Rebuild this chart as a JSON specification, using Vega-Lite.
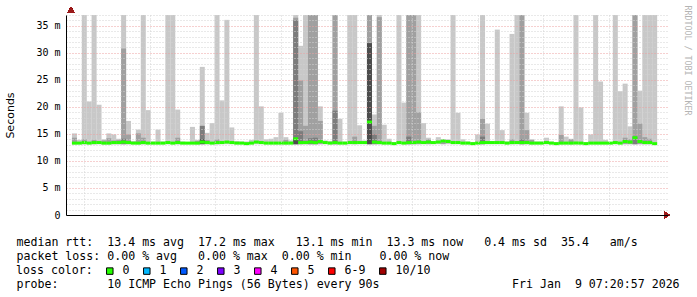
{
  "$schema": "https://vega.github.io/schema/vega-lite/v6.json",
  "autosize": "none",
  "width": 602,
  "height": 200,
  "padding": {"left": 66, "top": 15, "right": 29, "bottom": 82},
  "background": "white",
  "config": {"view": {"stroke": null}},
  "data": {"values": [
    {"t":"2026-01-09T04:22:00","hi":15.1,"g2":14.3,"med":13.3,"loss":"0"},
    {"t":"2026-01-09T04:23:30","hi":13.9,"med":13.3,"loss":"0"},
    {"t":"2026-01-09T04:25:00","hi":37,"g2":14.0,"med":13.4,"loss":"0"},
    {"t":"2026-01-09T04:26:30","hi":21.0,"med":13.3,"loss":"0"},
    {"t":"2026-01-09T04:28:00","hi":37,"g2":13.9,"med":13.4,"loss":"0"},
    {"t":"2026-01-09T04:29:30","hi":20.4,"med":13.4,"loss":"0"},
    {"t":"2026-01-09T04:31:00","hi":14.0,"g2":13.8,"med":13.3,"loss":"0"},
    {"t":"2026-01-09T04:32:30","hi":15.1,"g2":14.2,"med":13.3,"loss":"0"},
    {"t":"2026-01-09T04:34:00","hi":14.9,"g2":13.8,"med":13.4,"loss":"0"},
    {"t":"2026-01-09T04:35:30","hi":14.1,"g2":13.9,"med":13.4,"loss":"0"},
    {"t":"2026-01-09T04:37:00","hi":37,"g2":30.8,"g3":14.1,"med":13.5,"loss":"0"},
    {"t":"2026-01-09T04:38:30","hi":17.4,"g2":14.9,"med":13.4,"loss":"0"},
    {"t":"2026-01-09T04:40:00","hi":13.7,"med":13.3,"loss":"0"},
    {"t":"2026-01-09T04:41:30","hi":15.8,"g2":15.1,"med":13.3,"loss":"0"},
    {"t":"2026-01-09T04:43:00","hi":37,"g2":14.3,"med":13.4,"loss":"0"},
    {"t":"2026-01-09T04:44:30","hi":19.4,"med":13.3,"loss":"0"},
    {"t":"2026-01-09T04:46:00","hi":13.6,"med":13.3,"loss":"0"},
    {"t":"2026-01-09T04:47:30","hi":15.8,"med":13.3,"loss":"0"},
    {"t":"2026-01-09T04:49:00","hi":13.6,"med":13.3,"loss":"0"},
    {"t":"2026-01-09T04:50:30","hi":37,"med":13.4,"loss":"0"},
    {"t":"2026-01-09T04:52:00","hi":37,"med":13.3,"loss":"0"},
    {"t":"2026-01-09T04:53:30","hi":19.5,"g2":14.3,"med":13.4,"loss":"0"},
    {"t":"2026-01-09T04:55:00","hi":13.6,"med":13.3,"loss":"0"},
    {"t":"2026-01-09T04:56:30","hi":13.5,"med":13.3,"loss":"0"},
    {"t":"2026-01-09T04:58:00","hi":16.3,"med":13.3,"loss":"0"},
    {"t":"2026-01-09T04:59:30","hi":13.9,"g2":13.7,"med":13.3,"loss":"0"},
    {"t":"2026-01-09T05:01:00","hi":27.4,"g3":16.5,"g4":14.0,"med":13.5,"loss":"0"},
    {"t":"2026-01-09T05:02:30","hi":15.2,"g2":13.9,"med":13.4,"loss":"0"},
    {"t":"2026-01-09T05:04:00","hi":17.0,"med":13.3,"loss":"0"},
    {"t":"2026-01-09T05:05:30","hi":37,"g2":14.0,"med":13.4,"loss":"0"},
    {"t":"2026-01-09T05:07:00","hi":21.2,"med":13.4,"loss":"0"},
    {"t":"2026-01-09T05:08:30","hi":36.1,"med":13.5,"loss":"0"},
    {"t":"2026-01-09T05:10:00","hi":16.2,"med":13.4,"loss":"0"},
    {"t":"2026-01-09T05:11:30","hi":13.7,"med":13.3,"loss":"0"},
    {"t":"2026-01-09T05:13:00","hi":13.6,"med":13.3,"loss":"0"},
    {"t":"2026-01-09T05:14:30","hi":13.6,"med":13.2,"loss":"0"},
    {"t":"2026-01-09T05:16:00","hi":13.9,"med":13.3,"loss":"0"},
    {"t":"2026-01-09T05:17:30","hi":37,"med":13.5,"loss":"0"},
    {"t":"2026-01-09T05:19:00","hi":20.1,"med":13.4,"loss":"0"},
    {"t":"2026-01-09T05:20:30","hi":14.0,"med":13.3,"loss":"0"},
    {"t":"2026-01-09T05:22:00","hi":14.1,"med":13.3,"loss":"0"},
    {"t":"2026-01-09T05:23:30","hi":14.4,"med":13.3,"loss":"0"},
    {"t":"2026-01-09T05:25:00","hi":18.9,"med":13.3,"loss":"0"},
    {"t":"2026-01-09T05:26:30","hi":14.4,"g2":13.9,"med":13.3,"loss":"0"},
    {"t":"2026-01-09T05:28:00","hi":13.8,"med":13.3,"loss":"0"},
    {"t":"2026-01-09T05:29:30","hi":37,"g2":36.5,"g3":36.0,"g4":14.2,"med":14.1,"loss":"0"},
    {"t":"2026-01-09T05:31:00","hi":31.3,"g2":24.9,"g3":15.5,"med":13.4,"loss":"0"},
    {"t":"2026-01-09T05:32:30","hi":37,"g2":16.5,"med":13.4,"loss":"0"},
    {"t":"2026-01-09T05:34:00","hi":37,"g2":37,"g3":14.2,"med":13.5,"loss":"0"},
    {"t":"2026-01-09T05:35:30","hi":37,"g2":37,"g3":14.3,"med":13.4,"loss":"0"},
    {"t":"2026-01-09T05:37:00","hi":20.1,"g2":17.4,"med":13.6,"loss":"0"},
    {"t":"2026-01-09T05:38:30","hi":13.8,"med":13.4,"loss":"0"},
    {"t":"2026-01-09T05:40:00","hi":13.7,"med":13.3,"loss":"0"},
    {"t":"2026-01-09T05:41:30","hi":37,"g2":37,"g3":19.3,"med":13.4,"loss":"0"},
    {"t":"2026-01-09T05:43:00","hi":17.8,"med":13.3,"loss":"0"},
    {"t":"2026-01-09T05:44:30","hi":13.6,"med":13.3,"loss":"0"},
    {"t":"2026-01-09T05:46:00","hi":37,"med":13.4,"loss":"0"},
    {"t":"2026-01-09T05:47:30","hi":37,"g2":14.5,"med":13.4,"loss":"0"},
    {"t":"2026-01-09T05:49:00","hi":16.6,"med":13.4,"loss":"0"},
    {"t":"2026-01-09T05:50:30","hi":13.8,"med":13.4,"loss":"0"},
    {"t":"2026-01-09T05:52:00","hi":37,"g2":37,"g4":31.8,"med":17.2,"loss":"0"},
    {"t":"2026-01-09T05:53:30","hi":18.6,"g2":16.5,"g3":14.9,"med":13.5,"loss":"0"},
    {"t":"2026-01-09T05:55:00","hi":37,"g2":36.6,"med":13.4,"loss":"0"},
    {"t":"2026-01-09T05:56:30","hi":16.7,"med":13.3,"loss":"0"},
    {"t":"2026-01-09T05:58:00","hi":14.1,"med":13.3,"loss":"0"},
    {"t":"2026-01-09T05:59:30","hi":13.5,"med":13.2,"loss":"0"},
    {"t":"2026-01-09T06:01:00","hi":37,"med":13.4,"loss":"0"},
    {"t":"2026-01-09T06:02:30","hi":20.8,"med":13.3,"loss":"0"},
    {"t":"2026-01-09T06:04:00","hi":37,"g2":37,"g3":14.5,"med":13.4,"loss":"0"},
    {"t":"2026-01-09T06:05:30","hi":37,"g2":37,"med":13.4,"loss":"0"},
    {"t":"2026-01-09T06:07:00","hi":37,"g2":19.0,"med":13.5,"loss":"0"},
    {"t":"2026-01-09T06:08:30","hi":17.0,"med":13.4,"loss":"0"},
    {"t":"2026-01-09T06:10:00","hi":14.3,"g2":14.0,"med":13.5,"loss":"0"},
    {"t":"2026-01-09T06:11:30","hi":13.7,"med":13.4,"loss":"0"},
    {"t":"2026-01-09T06:13:00","hi":14.4,"med":13.5,"loss":"0"},
    {"t":"2026-01-09T06:14:30","hi":14.0,"g2":13.9,"med":13.7,"loss":"0"},
    {"t":"2026-01-09T06:16:00","hi":14.0,"med":13.6,"loss":"0"},
    {"t":"2026-01-09T06:17:30","hi":37,"med":13.4,"loss":"0"},
    {"t":"2026-01-09T06:19:00","hi":18.9,"med":13.4,"loss":"0"},
    {"t":"2026-01-09T06:20:30","hi":14.0,"med":13.3,"loss":"0"},
    {"t":"2026-01-09T06:22:00","hi":13.6,"med":13.3,"loss":"0"},
    {"t":"2026-01-09T06:23:30","hi":13.5,"med":13.2,"loss":"0"},
    {"t":"2026-01-09T06:25:00","hi":14.9,"med":13.3,"loss":"0"},
    {"t":"2026-01-09T06:26:30","hi":37,"g2":17.8,"g3":14.5,"med":13.4,"loss":"0"},
    {"t":"2026-01-09T06:28:00","hi":16.9,"med":13.4,"loss":"0"},
    {"t":"2026-01-09T06:29:30","hi":13.7,"med":13.4,"loss":"0"},
    {"t":"2026-01-09T06:31:00","hi":34.3,"med":13.4,"loss":"0"},
    {"t":"2026-01-09T06:32:30","hi":15.7,"med":13.4,"loss":"0"},
    {"t":"2026-01-09T06:34:00","hi":13.6,"med":13.3,"loss":"0"},
    {"t":"2026-01-09T06:35:30","hi":33.5,"g2":14.0,"med":13.4,"loss":"0"},
    {"t":"2026-01-09T06:37:00","hi":37,"med":13.4,"loss":"0"},
    {"t":"2026-01-09T06:38:30","hi":37,"g2":37,"g3":14.0,"med":13.4,"loss":"0"},
    {"t":"2026-01-09T06:40:00","hi":18.9,"g2":15.7,"med":13.4,"loss":"0"},
    {"t":"2026-01-09T06:41:30","hi":14.0,"g2":13.9,"med":13.3,"loss":"0"},
    {"t":"2026-01-09T06:43:00","hi":13.6,"med":13.3,"loss":"0"},
    {"t":"2026-01-09T06:44:30","hi":13.6,"med":13.3,"loss":"0"},
    {"t":"2026-01-09T06:46:00","hi":14.3,"med":13.4,"loss":"0"},
    {"t":"2026-01-09T06:47:30","hi":13.6,"med":13.3,"loss":"0"},
    {"t":"2026-01-09T06:49:00","hi":13.5,"med":13.2,"loss":"0"},
    {"t":"2026-01-09T06:50:30","hi":20.1,"g2":14.8,"med":13.3,"loss":"0"},
    {"t":"2026-01-09T06:52:00","hi":14.5,"med":13.3,"loss":"0"},
    {"t":"2026-01-09T06:53:30","hi":14.1,"g2":14.0,"med":13.3,"loss":"0"},
    {"t":"2026-01-09T06:55:00","hi":37,"med":13.3,"loss":"0"},
    {"t":"2026-01-09T06:56:30","hi":19.9,"med":13.3,"loss":"0"},
    {"t":"2026-01-09T06:58:00","hi":13.5,"med":13.2,"loss":"0"},
    {"t":"2026-01-09T06:59:30","hi":14.9,"med":13.3,"loss":"0"},
    {"t":"2026-01-09T07:01:00","hi":37,"med":13.3,"loss":"0"},
    {"t":"2026-01-09T07:02:30","hi":24.7,"med":13.3,"loss":"0"},
    {"t":"2026-01-09T07:04:00","hi":13.9,"med":13.3,"loss":"0"},
    {"t":"2026-01-09T07:05:30","hi":13.5,"med":13.3,"loss":"0"},
    {"t":"2026-01-09T07:07:00","hi":37,"med":13.4,"loss":"0"},
    {"t":"2026-01-09T07:08:30","hi":22.9,"med":13.3,"loss":"0"},
    {"t":"2026-01-09T07:10:00","hi":24.3,"g2":14.3,"med":13.6,"loss":"0"},
    {"t":"2026-01-09T07:11:30","hi":16.4,"g2":14.0,"med":13.5,"loss":"0"},
    {"t":"2026-01-09T07:13:00","hi":37,"g2":37,"g3":14.5,"med":14.3,"loss":"0"},
    {"t":"2026-01-09T07:14:30","hi":23.0,"g2":16.9,"med":13.6,"loss":"0"},
    {"t":"2026-01-09T07:16:00","hi":37,"g2":14.4,"med":13.4,"loss":"0"},
    {"t":"2026-01-09T07:17:30","hi":37,"g2":14.1,"med":13.4,"loss":"0"},
    {"t":"2026-01-09T07:19:00","hi":37,"med":13.2,"loss":"0"}
  ]},
  "resolve": {"axis": {"y": "independent"}},
  "layer": [
    {
      "transform": [{"filter": "isValid(datum.hi)"}],
      "mark": {"type": "bar", "width": 5, "color": "#c8c8c8", "clip": true},
      "encoding": {
        "x": {"field": "t", "type": "temporal",
          "scale": {"domain": [{"year": 2026, "month": 1, "date": 9, "hours": 4, "minutes": 20, "seconds": 57}, {"year": 2026, "month": 1, "date": 9, "hours": 7, "minutes": 21, "seconds": 33}], "nice": false},
          "axis": {
            "orient": "bottom",
            "values": [
              {"year":2026,"month":1,"date":9,"hours":4,"minutes":25},{"year":2026,"month":1,"date":9,"hours":4,"minutes":30},{"year":2026,"month":1,"date":9,"hours":4,"minutes":35},{"year":2026,"month":1,"date":9,"hours":4,"minutes":40},{"year":2026,"month":1,"date":9,"hours":4,"minutes":45},{"year":2026,"month":1,"date":9,"hours":4,"minutes":50},{"year":2026,"month":1,"date":9,"hours":4,"minutes":55},
              {"year":2026,"month":1,"date":9,"hours":5,"minutes":0},{"year":2026,"month":1,"date":9,"hours":5,"minutes":5},{"year":2026,"month":1,"date":9,"hours":5,"minutes":10},{"year":2026,"month":1,"date":9,"hours":5,"minutes":15},{"year":2026,"month":1,"date":9,"hours":5,"minutes":20},{"year":2026,"month":1,"date":9,"hours":5,"minutes":25},{"year":2026,"month":1,"date":9,"hours":5,"minutes":30},{"year":2026,"month":1,"date":9,"hours":5,"minutes":35},{"year":2026,"month":1,"date":9,"hours":5,"minutes":40},{"year":2026,"month":1,"date":9,"hours":5,"minutes":45},{"year":2026,"month":1,"date":9,"hours":5,"minutes":50},{"year":2026,"month":1,"date":9,"hours":5,"minutes":55},
              {"year":2026,"month":1,"date":9,"hours":6,"minutes":0},{"year":2026,"month":1,"date":9,"hours":6,"minutes":5},{"year":2026,"month":1,"date":9,"hours":6,"minutes":10},{"year":2026,"month":1,"date":9,"hours":6,"minutes":15},{"year":2026,"month":1,"date":9,"hours":6,"minutes":20},{"year":2026,"month":1,"date":9,"hours":6,"minutes":25},{"year":2026,"month":1,"date":9,"hours":6,"minutes":30},{"year":2026,"month":1,"date":9,"hours":6,"minutes":35},{"year":2026,"month":1,"date":9,"hours":6,"minutes":40},{"year":2026,"month":1,"date":9,"hours":6,"minutes":45},{"year":2026,"month":1,"date":9,"hours":6,"minutes":50},{"year":2026,"month":1,"date":9,"hours":6,"minutes":55},
              {"year":2026,"month":1,"date":9,"hours":7,"minutes":0},{"year":2026,"month":1,"date":9,"hours":7,"minutes":5},{"year":2026,"month":1,"date":9,"hours":7,"minutes":10},{"year":2026,"month":1,"date":9,"hours":7,"minutes":15},{"year":2026,"month":1,"date":9,"hours":7,"minutes":20}
            ],
            "labelExpr": "minutes(datum.value) % 20 == 0 ? timeFormat(datum.value, '%H:%M') : ''",
            "labelFont": "DejaVu Sans Mono", "labelFontSize": 10, "labelColor": "#000", "labelPadding": 4,
            "labelFlush": false, "labelOverlap": false,
            "ticks": false, "domainColor": "#000", "domainWidth": 1,
            "grid": true,
            "gridColor": {"condition": {"test": "minutes(datum.value) % 20 == 0", "value": "#eca0a0"}, "value": "#d2d2d2"},
            "gridDash": [1, 2],
            "zindex": 1,
            "title": [
              "median rtt:\u00a0\u00a013.4 ms avg\u00a0\u00a017.2 ms max\u00a0\u00a0\u00a013.1 ms min\u00a0\u00a013.3 ms now\u00a0\u00a0\u00a00.4 ms sd\u00a0\u00a035.4\u00a0\u00a0\u00a0am/s",
              "packet loss: 0.00 % avg\u00a0\u00a0\u00a00.00 % max\u00a0\u00a00.00 % min\u00a0\u00a0\u00a0\u00a00.00 % now",
              "\u200b",
              "probe:\u00a0\u00a0\u00a0\u00a0\u00a0\u00a0\u00a010 ICMP Echo Pings (56 Bytes) every 90s\u00a0\u00a0\u00a0\u00a0\u00a0\u00a0\u00a0\u00a0\u00a0\u00a0\u00a0\u00a0\u00a0\u00a0\u00a0\u00a0\u00a0\u00a0\u00a0Fri Jan\u00a0\u00a09 07:20:57 2026"
            ],
            "titleX": -50, "titleY": 30, "titleAlign": "left", "titleBaseline": "alphabetic", "titleAngle": 0,
            "titleFont": "DejaVu Sans Mono", "titleFontSize": 11.6, "titleFontWeight": "normal", "titleColor": "#000", "titleLineHeight": 14
          }
        },
        "y": {"field": "hi", "type": "quantitative", "stack": null,
          "scale": {"domain": [0, 37], "nice": false, "zero": false},
          "axis": {
            "orient": "left",
            "values": [0,1,2,3,4,5,6,7,8,9,10,11,12,13,14,15,16,17,18,19,20,21,22,23,24,25,26,27,28,29,30,31,32,33,34,35,36,37],
            "labelExpr": "datum.value == 0 ? '0' : (datum.value % 5 == 0 ? datum.value + ' m' : '')",
            "labelFont": "DejaVu Sans Mono", "labelFontSize": 10, "labelColor": "#000", "labelPadding": 6,
            "labelFlush": false, "labelOverlap": false,
            "ticks": false, "domainColor": "#000", "domainWidth": 1,
            "grid": true,
            "gridColor": {"condition": {"test": "datum.value % 5 == 0", "value": "#eca0a0"}, "value": "#d2d2d2"},
            "gridOpacity": {"condition": {"test": "datum.value == 0", "value": 0}, "value": 1},
            "gridDash": [1, 2],
            "zindex": 1,
            "title": "Seconds",
            "titleFont": "DejaVu Sans", "titleFontSize": 11, "titleFontWeight": "normal", "titleColor": "#000",
            "titleX": -56, "titleY": 100, "titleAngle": -90, "titleAlign": "center", "titleBaseline": "middle"
          }
        },
        "y2": {"datum": 13.1}
      }
    },
    {
      "transform": [{"filter": "isValid(datum.g2)"}],
      "mark": {"type": "bar", "width": 5, "color": "#a0a0a0", "clip": true},
      "encoding": {
        "x": {"field": "t", "type": "temporal"},
        "y": {"field": "g2", "type": "quantitative", "stack": null, "axis": null},
        "y2": {"datum": 13.1}
      }
    },
    {
      "transform": [{"filter": "isValid(datum.g3)"}],
      "mark": {"type": "bar", "width": 5, "color": "#7c7c7c", "clip": true},
      "encoding": {
        "x": {"field": "t", "type": "temporal"},
        "y": {"field": "g3", "type": "quantitative", "stack": null, "axis": null},
        "y2": {"datum": 13.1}
      }
    },
    {
      "transform": [{"filter": "isValid(datum.g4)"}],
      "mark": {"type": "bar", "width": 5, "color": "#4c4c4c", "clip": true},
      "encoding": {
        "x": {"field": "t", "type": "temporal"},
        "y": {"field": "g4", "type": "quantitative", "stack": null, "axis": null},
        "y2": {"datum": 13.1}
      }
    },
    {
      "mark": {"type": "tick", "orient": "horizontal", "size": 5, "thickness": 3, "opacity": 1},
      "encoding": {
        "x": {"field": "t", "type": "temporal"},
        "y": {"field": "med", "type": "quantitative", "axis": null},
        "color": {"field": "loss", "type": "nominal",
          "scale": {"domain": ["0", "1", "2", "3", "4", "5", "6-9", "10/10"],
                    "range": ["#26ff00", "#00b8ff", "#0059ff", "#7e00ff", "#ff00ff", "#ff5500", "#ff0000", "#a10000"]},
          "legend": {
            "orient": "none", "legendX": -50, "legendY": 250, "direction": "horizontal",
            "title": "loss color:", "titleOrient": "left", "titlePadding": 11,
            "titleFont": "DejaVu Sans Mono", "titleFontSize": 11.6, "titleFontWeight": "normal", "titleColor": "#000",
            "labelFont": "DejaVu Sans Mono", "labelFontSize": 11.6, "labelColor": "#000", "labelOffset": 7,
            "columnPadding": 11, "symbolType": "square", "symbolSize": 42,
            "symbolStrokeColor": "#000", "symbolStrokeWidth": 1
          }
        }
      }
    },
    {
      "mark": {"type": "point", "shape": "triangle-up", "size": 45, "filled": true, "color": "#9b1b1b", "opacity": 1, "clip": false},
      "encoding": {
        "x": {"datum": {"year": 2026, "month": 1, "date": 9, "hours": 4, "minutes": 20, "seconds": 57}, "type": "temporal"},
        "y": {"datum": 37.95, "type": "quantitative",
          "axis": {"orient": "right", "title": "RRDTOOL / TOBI OETIKER", "labels": false, "ticks": false, "domain": false, "grid": false,
            "titleFont": "DejaVu Sans Mono", "titleFontSize": 8.3, "titleFontWeight": "normal", "titleColor": "#b4b4b4",
            "titleAngle": 90, "titleX": 18, "titleY": 45, "titleAlign": "center", "titleBaseline": "middle"}}
      }
    },
    {
      "mark": {"type": "point", "shape": "triangle-right", "size": 45, "filled": true, "color": "#9b1b1b", "opacity": 1, "clip": false},
      "encoding": {
        "x": {"datum": {"year": 2026, "month": 1, "date": 9, "hours": 7, "minutes": 22, "seconds": 45}, "type": "temporal"},
        "y": {"datum": 0, "type": "quantitative", "axis": null}
      }
    }
  ]
}
